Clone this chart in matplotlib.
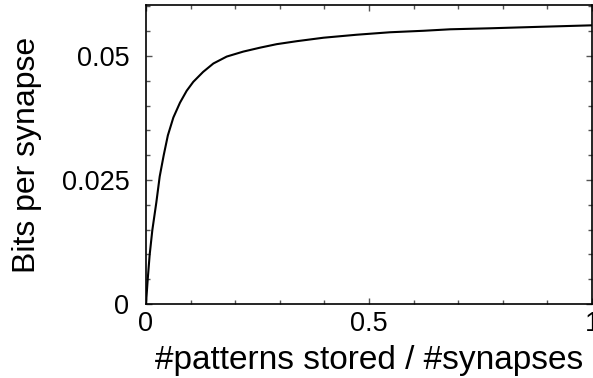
import matplotlib.pyplot as plt
from matplotlib.ticker import MultipleLocator

plt.rcParams['font.family'] = ['Liberation Sans', 'DejaVu Sans']

# curve
load = [0.0, 0.0037, 0.0082, 0.0142, 0.0232, 0.0307, 0.0397, 0.049, 0.0613, 0.0762,
        0.0912, 0.106, 0.128, 0.151, 0.181, 0.218, 0.256, 0.293, 0.338, 0.398,
        0.472, 0.547, 0.622, 0.682, 0.771, 0.883, 1.0]
bits = [0.0, 0.0048, 0.0099, 0.0149, 0.0205, 0.0257, 0.0300, 0.0340, 0.0376, 0.0406,
        0.0430, 0.0448, 0.0468, 0.0485, 0.0499, 0.0509, 0.0517, 0.0524, 0.0530, 0.0537,
        0.0543, 0.0548, 0.0551, 0.0554, 0.0556, 0.0559, 0.0562]

fig = plt.figure(figsize=(5.93, 3.78), dpi=100)
ax = fig.add_axes([0.2462, 0.1958, 0.7523, 0.791])

ax.plot(load, bits, color='black', lw=1.5)

ax.set_xlim(0, 1)
ax.set_ylim(0, 0.0603)
ax.set_xticks([0, 0.5, 1])
ax.set_xticklabels(['0', '0.5', '1'])
ax.set_yticks([0, 0.025, 0.05])
ax.set_yticklabels(['0', '0.025', '0.05'])
ax.xaxis.set_minor_locator(MultipleLocator(0.1))
ax.yaxis.set_minor_locator(MultipleLocator(0.005))
ax.tick_params(which='both', direction='in', top=True, right=True,
               labelsize=19.5, color='#555555', width=1)
ax.tick_params(which='major', length=4, pad=5)
ax.tick_params(axis='y', which='major', pad=12)
ax.tick_params(which='minor', length=3)
for s in ax.spines.values():
    s.set_linewidth(1.2)

ax.set_xlabel('#patterns stored / #synapses', fontsize=24, labelpad=6)
ax.set_ylabel('Bits per synapse', fontsize=23, labelpad=14)

fig.savefig('out.png', dpi=100)
